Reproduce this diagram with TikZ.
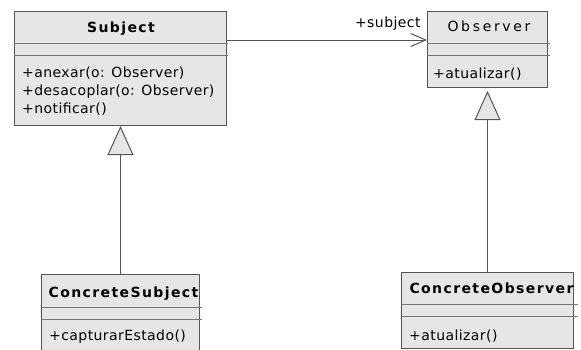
\documentclass[tikz,border=0pt]{standalone}
\usepackage{fontspec}
\setmainfont{DejaVu Sans}
\newfontfamily\mtxt{DejaVu Sans}[LetterSpace=3]
\newfontfamily\btitle{DejaVu Sans Bold}[LetterSpace=10]
\newfontfamily\stitle{DejaVu Sans}[LetterSpace=19]
\usetikzlibrary{arrows.meta}
\definecolor{boxfill}{HTML}{E6E6E6}
\definecolor{boxline}{HTML}{555555}
\definecolor{sepline}{HTML}{777777}
\tikzset{
  cls/.style={draw=boxline, fill=boxfill, line width=1pt, inner sep=0pt, anchor=north west},
  sep/.style={draw=sepline, line width=1pt},
  mtext/.style={anchor=base west, inner sep=0pt, font=\fontsize{14}{18}\selectfont\mtxt},
  btext/.style={anchor=base, inner sep=0pt, font=\fontsize{14}{18}\selectfont\btitle},
  stext/.style={anchor=base, inner sep=0pt, font=\fontsize{14}{18}\selectfont\stitle},
  assoc/.style={draw=boxline, line width=1pt, -{Straight Barb[length=15pt,width=13pt]}},
  gen/.style={draw=boxline, line width=1pt, -{Triangle[open, length=29pt, width=26pt, fill=boxfill]}},
}
\begin{document}
\begin{tikzpicture}[x=1pt,y=-1pt]
\useasboundingbox (0,0) rectangle (581,349);
% Subject
\node[cls, minimum width=212pt, minimum height=114pt] (subj) at (14,11) {};
\draw[sep] (14,43) -- (228,43);
\draw[sep] (14,55) -- (228,55);
\node[btext] (subjT) at (121,32) {Subject};
\node[mtext] (subjM1) at (22,77) {+anexar(o: Observer)};
\node[mtext] (subjM2) at (22,95) {+desacoplar(o: Observer)};
\node[mtext] (subjM3) at (22,113) {+notificar()};
% Observer
\node[cls, minimum width=120pt, minimum height=76pt] (obs) at (427,11) {};
\draw[sep] (427,43) -- (550,43);
\draw[sep] (427,55) -- (550,55);
\node[stext] (obsT) at (489,31) {Observer};
\node[mtext] (obsM1) at (433,78) {+atualizar()};
% ConcreteSubject
\node[cls, minimum width=158pt, minimum height=78pt] (csubj) at (41,274) {};
\draw[sep] (41,307) -- (202,307);
\draw[sep] (41,319) -- (202,319);
\node[btext] (csubjT) at (123.5,297) {ConcreteSubject};
\node[mtext] (csubjM1) at (49,340) {+capturarEstado()};
% ConcreteObserver
\node[cls, minimum width=172pt, minimum height=76pt] (cobs) at (401,272) {};
\draw[sep] (401,304) -- (578,304);
\draw[sep] (401,316) -- (578,316);
\node[btext] (cobsT) at (491.5,293) {ConcreteObserver};
\node[mtext] (cobsM1) at (409,340) {+atualizar()};
% connectors
\draw[assoc] ([yshift=-29pt]subj.north east) -- ([yshift=-29pt]obs.north west)
  node[pos=1, anchor=base east, inner sep=0pt, xshift=-6pt, yshift=13pt, font=\fontsize{14}{18}\selectfont\mtxt] (role) {+subject};
\draw[gen] (csubj.north -| subj.south) -- (subj.south);
\draw[gen, shorten >=3pt] (cobs.north -| obs.south) -- (obs.south);
\end{tikzpicture}
\end{document}
